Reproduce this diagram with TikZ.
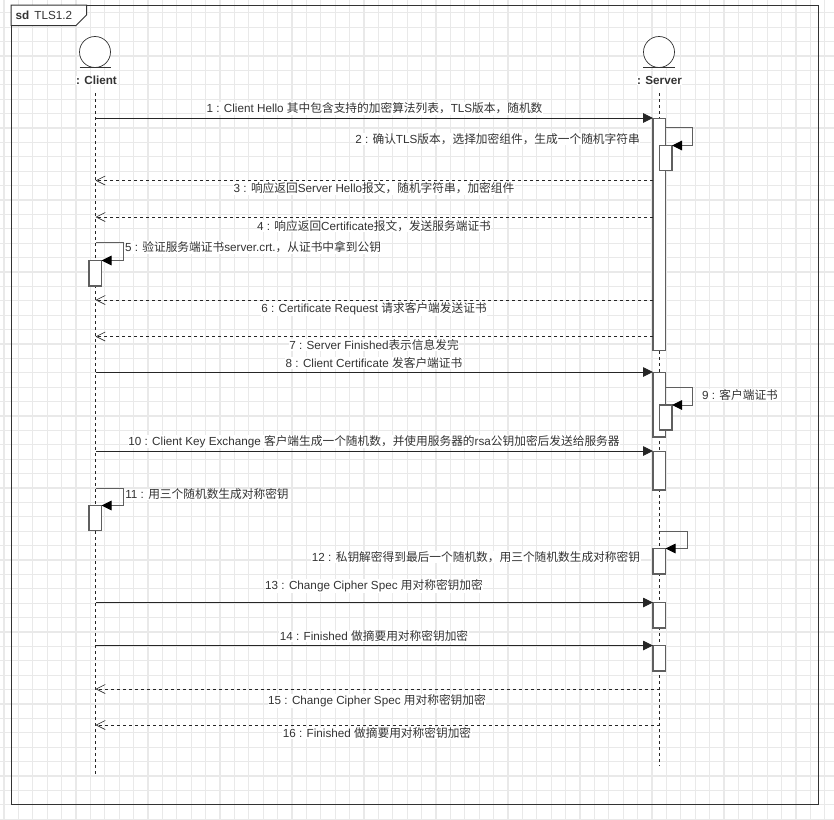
\documentclass[tikz,border=0pt]{standalone}
\usepackage{fontspec}
\setmainfont{Liberation Sans}
\newfontfamily\cjk{Noto Sans CJK SC}
\newcommand{\cj}[1]{{\cjk #1}}
\usetikzlibrary{arrows.meta}
\definecolor{gridc}{HTML}{E9E9E9}
\definecolor{linec}{HTML}{333333}
\definecolor{boxc}{HTML}{5F5F5F}
\tikzset{
  lab/.style={font=\fontsize{11.7}{13}\selectfont,fill=white,inner sep=0.5pt,text=black!80,anchor=center},
  actorname/.style={font=\bfseries\fontsize{11.7}{14}\selectfont,fill=white,inner sep=0.5pt,text=black!80},
  life/.style={draw=black!85,dash pattern=on 3pt off 3pt,line width=0.8pt},
  act/.style={draw=boxc,fill=white,line width=1.1pt},
  msg/.style={draw=black!85,line width=0.9pt,-{Triangle[length=10pt,width=9.5pt]}},
  ret/.style={draw=black!85,line width=0.7pt,dash pattern=on 3pt off 3pt,-{Straight Barb[length=9pt,width=9pt,line width=0.6pt]}},
  selfm/.style={draw=boxc,line width=1pt,-{Triangle[length=10pt,width=9.5pt,black]}},
  actor/.style={draw=black!80,circle,minimum size=31pt,inner sep=0pt,line width=0.7pt,fill=white},
}
\begin{document}
\begin{tikzpicture}[x=1pt,y=-1pt]
\useasboundingbox (0,0) rectangle (834,819);
\fill[white] (0,0) rectangle (834,819);
% grid
\foreach \i in {0,...,57} {\draw[gridc,line width=1.2pt] ({4+14.4*\i},0) -- ({4+14.4*\i},819);}
\foreach \i in {0,...,56} {\draw[gridc,line width=1.2pt] (0,{12.7+14.4*\i}) -- (834,{12.7+14.4*\i});}
% frame
\draw[linec,line width=1pt] (11,5) rectangle (818,804);
\draw[linec,line width=1pt,fill=white] (11,5) -- (86.5,5) -- (86.5,15) -- (76,25.5) -- (11,25.5) -- cycle;
\node[font=\fontsize{11.7}{14}\selectfont,anchor=west,inner sep=0pt,text=black!80] (frametitle) at (15.5,15) {\textbf{sd}\hspace{5pt}TLS1.2};
% actors
\node[actor] (cc) at (95,52) {};
\node[actor] (sc) at (659,52) {};
\draw[black!80,line width=0.7pt] (79.5,67.5) -- (111,67.5);
\draw[black!80,line width=0.7pt] (643,67.5) -- (674.5,67.5);
\node[actorname] (cn) at (96.5,80.5) {: Client};
\node[actorname] (sn) at (659.5,80.5) {: Server};
% lifelines
\coordinate (cb) at (95.5,93);
\coordinate (ce) at (95.5,776);
\coordinate (sb) at (659.5,93);
\coordinate (se) at (659.5,766);
\draw[life] (cb) -- (ce);
\draw[life] (sb) -- (se);
% activations
\draw[act] (653,118.5) rectangle (665.5,350.5);
\draw[act] (659.5,145.5) rectangle (672,170.5);
\draw[act] (653,372.5) rectangle (665.5,437);
\draw[act] (659.5,405) rectangle (672,430);
\draw[act] (653,451.5) rectangle (665.5,490);
\draw[act] (653,548.5) rectangle (665.5,574);
\draw[act] (653,602.5) rectangle (665.5,628);
\draw[act] (653,645.5) rectangle (665.5,671);
\draw[act] (89,260.5) rectangle (101.5,286);
\draw[act] (89,505.5) rectangle (101.5,530.5);
% coordinates
\coordinate (c1) at (95.5,118);\coordinate (s1) at (653,118);
\coordinate (s3) at (653,180.5);\coordinate (c3) at (95.5,180.5);
\coordinate (s4) at (653,217);\coordinate (c4) at (95.5,217);
\coordinate (s6) at (653,300);\coordinate (c6) at (95.5,300);
\coordinate (s7) at (653,336.5);\coordinate (c7) at (95.5,336.5);
\coordinate (c8) at (95.5,372);\coordinate (s8) at (653,372);
\coordinate (c10) at (95.5,451);\coordinate (s10) at (653,451);
\coordinate (c13) at (95.5,602.5);\coordinate (s13) at (653,602.5);
\coordinate (c14) at (95.5,645.5);\coordinate (s14) at (653,645.5);
\coordinate (s15) at (659.5,689);\coordinate (c15) at (95.5,689);
\coordinate (s16) at (659.5,725);\coordinate (c16) at (95.5,725);
% messages
\draw[msg] (c1) -- (s1);
\draw[ret] (s3) -- (c3);
\draw[ret] (s4) -- (c4);
\draw[ret] (s6) -- (c6);
\draw[ret] (s7) -- (c7);
\draw[msg] (c8) -- (s8);
\draw[msg] (c10) -- (s10);
\draw[msg] (c13) -- (s13);
\draw[msg] (c14) -- (s14);
\draw[ret] (s15) -- (c15);
\draw[ret] (s16) -- (c16);
% self messages
\draw[selfm] (665.5,127.5) -- (692.5,127.5) -- (692.5,145.5) -- (672,145.5);
\draw[selfm] (665.5,387) -- (692.5,387) -- (692.5,405) -- (672,405);
\draw[selfm] (659.5,531) -- (687,531) -- (687,548.5) -- (665.5,548.5);
\draw[selfm] (95.5,242.5) -- (123,242.5) -- (123,260.5) -- (101.5,260.5);
\draw[selfm] (95.5,488) -- (123,488) -- (123,505.5) -- (101.5,505.5);
% labels
\node[lab] (l1) at (374.5,108.5) {1 : Client Hello \cj{其中包含支持的加密算法列表，}TLS\cj{版本，随机数}};
\node[lab] (l2) at (497.5,139) {2 : \cj{确认}TLS\cj{版本，选择加密组件，生成一个随机字符串}};
\node[lab] (l3) at (374,188.5) {3 : \cj{响应返回}Server Hello\cj{报文，随机字符串，加密组件}};
\node[lab] (l4) at (374,226) {4 : \cj{响应返回}Certificate\cj{报文，发送服务端证书}};
\node[lab] (l5) at (253,247.5) {5 : \cj{验证服务端证书}server.crt.\cj{，从证书中拿到公钥}};
\node[lab] (l6) at (374,309) {6 : Certificate Request \cj{请求客户端发送证书}};
\node[lab] (l7) at (374,345) {7 : Server Finished\cj{表示信息发完}};
\node[lab] (l8) at (374,363) {8 : Client Certificate \cj{发客户端证书}};
\node[lab] (l9) at (740,395) {9 : \cj{客户端证书}};
\node[lab] (l10) at (374,441.5) {10 : Client Key Exchange \cj{客户端生成一个随机数，并使用服务器的}rsa\cj{公钥加密后发送给服务器}};
\node[lab] (l11) at (207,494.5) {11 : \cj{用三个随机数生成对称密钥}};
\node[lab] (l12) at (476,557) {12 : \cj{私钥解密得到最后一个随机数，用三个随机数生成对称密钥}};
\node[lab] (l13) at (374,586) {13 : Change Cipher Spec \cj{用对称密钥加密}};
\node[lab] (l14) at (374,636.5) {14 : Finished \cj{做摘要用对称密钥加密}};
\node[lab] (l15) at (377,701) {15 : Change Cipher Spec \cj{用对称密钥加密}};
\node[lab] (l16) at (377,733.5) {16 : Finished \cj{做摘要用对称密钥加密}};
\end{tikzpicture}
\end{document}
